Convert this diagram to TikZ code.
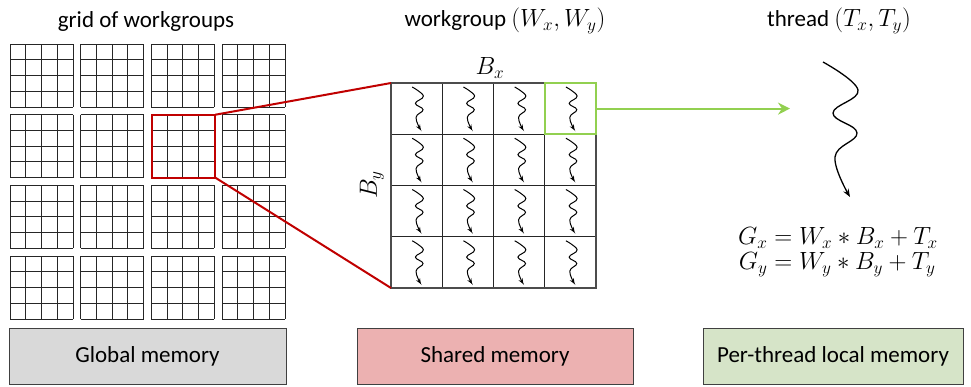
\documentclass[tikz,border=0pt]{standalone}
\usepackage{amsmath}
\usepackage{fontspec}
\setmainfont{Carlito}
\usetikzlibrary{arrows.meta}

\definecolor{selred}{HTML}{C00000}
\definecolor{selgreen}{HTML}{92D050}
\definecolor{globalfill}{HTML}{D9D9D9}
\definecolor{sharedfill}{HTML}{ECB1B1}
\definecolor{localfill}{HTML}{D6E4C8}

\tikzset{
  bigtext/.style={inner sep=0pt, font=\fontsize{23}{26}\selectfont},
  cellline/.style={black!85, line width=1pt},
  membox/.style={draw=black!75, line width=1pt, minimum height=56pt, inner sep=0pt, outer sep=0pt, font=\fontsize{23}{26}\selectfont},
  thread/.pic={
    \draw[->] plot[smooth, tension=0.7] coordinates {(-13.5,-67.5) (21.5,-39.5) (-3.5,-16.5) (20.5,3.5) (-1.5,27.5) (13.5,67.5)};
  }
}

\begin{document}
\begin{tikzpicture}[x=1pt,y=-1pt]
\useasboundingbox (0,0) rectangle (971,386);
% grid of workgroups
\node[bigtext] (gridtitle) at (146,21) {grid of workgroups};
\foreach \i in {0,...,3}
  \foreach \j in {0,...,3}
    \foreach \k in {0,...,4} {
      \draw[cellline] (10+70.7*\i+15.75*\k,44+70.7*\j) -- ++(0,63);
      \draw[cellline] (10+70.7*\i,44+70.7*\j+15.75*\k) -- ++(63,0);
    }
\node[draw=selred, line width=2pt, minimum size=63pt, inner sep=0pt, outer sep=0pt] (sel) at (183.9,146.2) {};

% one workgroup
\node[bigtext] (wgtitle) at (505,21) {workgroup $(W_x, W_y)$};
\foreach \k in {1,...,3} {
  \draw[cellline] (391+51.25*\k,83) -- ++(0,205);
  \draw[cellline] (391,83+51.25*\k) -- ++(205,0);
}
\node[draw=black!70, line width=1.3pt, minimum size=205pt, inner sep=0pt, outer sep=0pt] (wg) at (493.5,185.5) {};
\foreach \i in {0,...,3}
  \foreach \j in {0,...,3}
    \pic[scale=0.32, line width=1pt, >={Stealth[length=5.5pt,width=4.5pt]}] at (391+51.25*\i+25.5,83+51.25*\j+25.6) {thread};
\node[draw=selgreen, line width=2pt, minimum size=51.25pt, inner sep=0pt, outer sep=0pt] (cell) at (570.4,108.6) {};
\node[bigtext] (bx) at (490,68) {$B_x$};
\node[bigtext, rotate=90] (by) at (372,185) {$B_y$};
\draw[selred, line width=2pt] (sel.north east) -- (wg.north west);
\draw[selred, line width=2pt] (sel.south east) -- (wg.south west);

% one thread
\node[bigtext] (thrtitle) at (839,21) {thread $(T_x, T_y)$};
\coordinate (thrin) at (790,108.6);
\draw[selgreen, line width=2pt, -{Stealth[length=12pt,width=12pt,inset=4pt]}] (cell.east) -- (thrin);
\pic[line width=1.3pt, >={Stealth[length=8pt,width=6pt]}] (bigthr) at (836.5,129.5) {thread};
\node[bigtext] (eqs) at (838,252) {$\begin{aligned} G_x &= W_x \ast B_x + T_x\\[-4pt] G_y &= W_y \ast B_y + T_y\end{aligned}$};

% memories
\node[membox, fill=globalfill, minimum width=277pt] (globalmem) at (147.5,356) {Global memory};
\node[membox, fill=sharedfill, minimum width=276pt] (sharedmem) at (495,356) {Shared memory};
\node[membox, fill=localfill, minimum width=260pt] (localmem) at (833,356) {Per-thread local memory};
\end{tikzpicture}
\end{document}
